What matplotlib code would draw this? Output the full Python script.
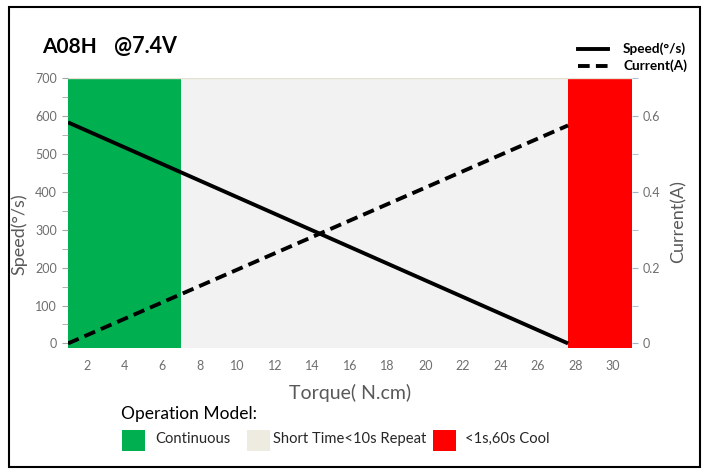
import matplotlib
matplotlib.use("Agg")
import matplotlib.pyplot as plt
from matplotlib.patches import Rectangle
from matplotlib.lines import Line2D

plt.rcParams['font.family'] = ['Lato', 'DejaVu Sans']

# Data
torque = [1, 27.6]
speed = [583, 0]
current = [0, 0.575]
zones = [(1, 7, '#00B050'), (7, 27.6, '#F2F2F2'), (27.6, 31, '#FF0000')]
zone_labels = ['Continuous', 'Short Time<10s Repeat', '<1s,60s Cool']
legend_colors = ['#00B050', '#EEECE1', '#FF0000']
xticks = list(range(2, 31, 2))
yticks = list(range(0, 701, 100))
y2ticks = [0, 0.2, 0.4, 0.6]

W, H = 708, 471
fig = plt.figure(figsize=(W / 100, H / 100), dpi=100)
fig.patch.set_facecolor('white')

# figure border
fig.add_artist(Rectangle((9 / W, 1 - 467 / H), 691 / W, 460 / H, transform=fig.transFigure,
                         fill=False, edgecolor='black', linewidth=1.5))

ax = fig.add_axes([68 / W, 1 - 348 / H, (632 - 68) / W, (348 - 78) / H])
ymin = -12
for x0, x1, c in zones:
    ax.fill_between([x0, x1], ymin, 700, color=c, linewidth=0, zorder=1)
ax.axhline(700, color='#E6E2D3', linewidth=1, zorder=1.5)
ax.set_xlim(1, 31)
ax.set_ylim(ymin, 700)
ax.plot(torque, speed, color='black', linewidth=2.8, zorder=3, solid_capstyle='butt')

ax2 = ax.twinx()
ax2.set_ylim(ymin / 700 * 0.7, 0.7)
ax2.plot(torque, current, color='black', linewidth=2.8, linestyle=(0, (3, 1.6)), zorder=3)

for s in ['top', 'bottom', 'right', 'left']:
    ax.spines[s].set_visible(False)
    ax2.spines[s].set_visible(False)

tick_col = '#6E6E6E'
ax.set_xticks(xticks)
ax.set_xticklabels([str(t) for t in xticks])
ax.tick_params(axis='x', length=0, pad=9, labelsize=9, labelcolor=tick_col)
ax.set_yticks(yticks)
ax.set_yticks(list(range(50, 701, 100)), minor=True)
ax.tick_params(axis='y', which='both', length=4, color='#A6A6A6', labelsize=9,
               labelcolor=tick_col, pad=4)
ax2.set_yticks(y2ticks)
ax2.set_yticklabels(['0', '0.2', '0.4', '0.6'])
ax2.set_yticks([0.1, 0.3, 0.5, 0.7], minor=True)
ax2.tick_params(axis='y', which='both', length=4, color='#9DB3CC', labelsize=9,
                labelcolor=tick_col, pad=4)

ax.set_xlabel('Torque( N.cm)', fontsize=14, color='#595959', labelpad=8)
ax.set_ylabel('Speed(°/s)', fontsize=13, color='#595959')
ax.yaxis.set_label_coords(-0.072, 0.42)
ax2.set_ylabel('Current(A)', fontsize=13, color='#595959')
ax2.yaxis.set_label_coords(1.068, 0.467)

# Title
fig.text(42 / W, 1 - 47 / H, 'A08H', fontsize=15, fontweight='bold', va='center', ha='left')
fig.text(114 / W, 1 - 47 / H, '@7.4V', fontsize=15.5, fontweight='bold', va='center', ha='left')

# Top-right legend
fig.add_artist(Line2D([578 / W, 608 / W], [1 - 49 / H, 1 - 49 / H], transform=fig.transFigure,
                      color='black', linewidth=2.8))
fig.add_artist(Line2D([578 / W, 608 / W], [1 - 66 / H, 1 - 66 / H], transform=fig.transFigure,
                      color='black', linewidth=2.8, linestyle=(0, (3, 1.6))))
fig.text(623 / W, 1 - 49 / H, 'Speed(°/s)', fontsize=9.8, fontweight='bold', va='center', ha='left')
fig.text(623 / W, 1 - 66 / H, 'Current(A)', fontsize=9.8, fontweight='bold', va='center', ha='left')

# Bottom legend
fig.text(121 / W, 1 - 414 / H, 'Operation Model:', fontsize=12.5, va='center', ha='left')
box_x = [122, 247, 433]
text_x = [155, 273, 465]
for bx, tx, c, lbl in zip(box_x, text_x, legend_colors, zone_labels):
    fig.add_artist(Rectangle((bx / W, 1 - 451 / H), 23 / W, 21 / H, transform=fig.transFigure,
                             facecolor=c, edgecolor='none'))
    fig.text(tx / W, 1 - 439 / H, lbl, fontsize=10.6, va='center', ha='left', color='#262626')

fig.savefig('out.png', dpi=100)
